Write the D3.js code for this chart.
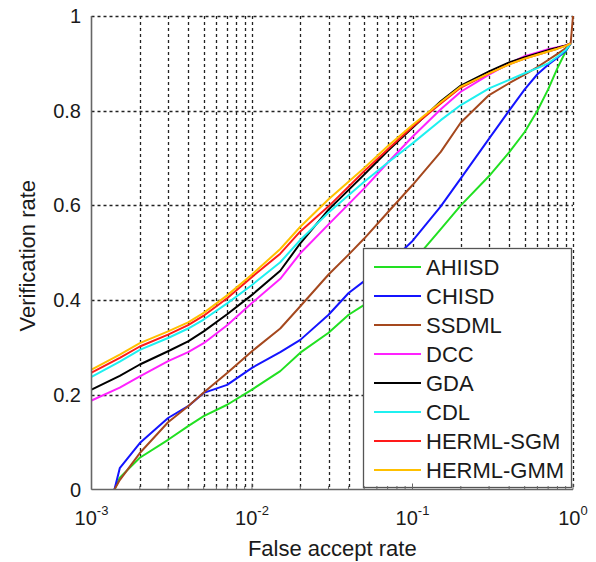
<!DOCTYPE html>
<html>
<head>
<meta charset="utf-8">
<script src="https://cdn.jsdelivr.net/npm/d3@7"></script>
<style>
  body { margin: 0; background: #fff; }
  text { font-family: Arial, "Liberation Sans", sans-serif; fill: #1a1a1a; }
</style>
</head>
<body>
<svg id="chart"></svg>
<script>
const width = 596;
const height = 562;

/* ---------------------------
Data
--------------------------- */

const methods = ["AHIISD", "CHISD", "SSDML", "DCC", "GDA", "CDL", "HERML-SGM", "HERML-GMM"];

// false accept rate samples
const farLow = [0.00139, 0.0015, 0.002, 0.003, 0.004, 0.005, 0.007, 0.01, 0.015, 0.02, 0.03, 0.04, 0.05, 0.07, 0.1, 0.15, 0.2, 0.3, 0.4, 0.5, 0.6, 0.7, 0.8, 0.9, 0.967];
const farSSDML = [0.00139, 0.0015, 0.002, 0.003, 0.004, 0.005, 0.007, 0.01, 0.015, 0.02, 0.03, 0.04, 0.05, 0.07, 0.1, 0.15, 0.2, 0.3, 0.4, 0.5, 0.6, 0.7, 0.8, 0.9, 0.967, 1.0];
const farHigh = [0.001, 0.0015, 0.002, 0.003, 0.004, 0.005, 0.007, 0.01, 0.015, 0.02, 0.03, 0.05, 0.07, 0.1, 0.15, 0.2, 0.3, 0.4, 0.5, 0.6, 0.7, 0.8, 0.9, 0.967];

// verification rates
const ahiisd = [0, 0.025, 0.067, 0.105, 0.134, 0.155, 0.179, 0.211, 0.25, 0.289, 0.331, 0.369, 0.39, 0.43, 0.48, 0.55, 0.6, 0.662, 0.712, 0.755, 0.8, 0.845, 0.89, 0.925, 0.942];
const chisd = [0, 0.045, 0.098, 0.151, 0.176, 0.204, 0.221, 0.257, 0.29, 0.316, 0.369, 0.415, 0.44, 0.475, 0.525, 0.598, 0.657, 0.741, 0.8, 0.845, 0.877, 0.897, 0.912, 0.926, 0.942];
const ssdml = [0, 0.02, 0.077, 0.142, 0.176, 0.205, 0.246, 0.292, 0.34, 0.387, 0.454, 0.496, 0.53, 0.585, 0.643, 0.713, 0.775, 0.833, 0.858, 0.876, 0.892, 0.907, 0.92, 0.932, 0.942, 1.0];
const dcc = [0.188, 0.215, 0.239, 0.271, 0.29, 0.309, 0.347, 0.394, 0.445, 0.499, 0.56, 0.636, 0.69, 0.745, 0.803, 0.84, 0.876, 0.9, 0.915, 0.923, 0.93, 0.934, 0.938, 0.942];
const gda = [0.211, 0.24, 0.264, 0.292, 0.313, 0.334, 0.37, 0.411, 0.462, 0.52, 0.591, 0.665, 0.715, 0.764, 0.82, 0.853, 0.883, 0.902, 0.913, 0.921, 0.928, 0.933, 0.938, 0.942];
const cdl = [0.238, 0.27, 0.295, 0.32, 0.34, 0.359, 0.393, 0.432, 0.48, 0.527, 0.585, 0.65, 0.69, 0.731, 0.78, 0.812, 0.847, 0.865, 0.879, 0.89, 0.9, 0.914, 0.928, 0.942];
const hermlSGM = [0.247, 0.278, 0.302, 0.327, 0.347, 0.367, 0.404, 0.449, 0.498, 0.545, 0.598, 0.672, 0.718, 0.766, 0.815, 0.849, 0.879, 0.898, 0.91, 0.918, 0.925, 0.931, 0.937, 0.942];
const hermlGMM = [0.253, 0.285, 0.309, 0.334, 0.353, 0.373, 0.41, 0.454, 0.508, 0.555, 0.613, 0.679, 0.725, 0.77, 0.818, 0.851, 0.879, 0.898, 0.91, 0.918, 0.925, 0.931, 0.937, 0.942];

const yTicks = [0, 0.2, 0.4, 0.6, 0.8, 1];
const yTickLabels = ["0", "0.2", "0.4", "0.6", "0.8", "1"];
const xDecades = [-3, -2, -1, 0];

const colors = ["#22e022", "#1414ff", "#a5481e", "#ff22ff", "#000000", "#1ff0f0", "#ff1a1a", "#ffc000"];

const series = [
  { name: methods[0], x: farLow, y: ahiisd },
  { name: methods[1], x: farLow, y: chisd },
  { name: methods[2], x: farSSDML, y: ssdml },
  { name: methods[3], x: farHigh, y: dcc },
  { name: methods[4], x: farHigh, y: gda },
  { name: methods[5], x: farHigh, y: cdl },
  { name: methods[6], x: farHigh, y: hermlSGM },
  { name: methods[7], x: farHigh, y: hermlGMM }
];

/* ---------------------------
Scales
--------------------------- */

const plot = { left: 91.5, right: 573, top: 16, bottom: 489.5 };

const x = d3.scaleLog()
  .domain([1e-3, 1])
  .range([plot.left, plot.right]);

const y = d3.scaleLinear()
  .domain([0, 1])
  .range([plot.bottom, plot.top]);

const svg = d3.select("#chart")
  .attr("width", width)
  .attr("height", height);

/* ---------------------------
Grid
--------------------------- */

const minorTicks = [];
xDecades.slice(0, -1).forEach(e => {
  for (let k = 1; k <= 9; k++) minorTicks.push(k * Math.pow(10, e));
});
minorTicks.push(1);

svg.append("g")
  .selectAll("line")
  .data(minorTicks.filter(v => v > 1e-3))
  .enter()
  .append("line")
  .attr("x1", d => Math.round(x(d)) + 0.5)
  .attr("x2", d => Math.round(x(d)) + 0.5)
  .attr("y1", plot.top)
  .attr("y2", plot.bottom)
  .attr("stroke", "#222")
  .attr("stroke-width", 1.3)
  .attr("stroke-dasharray", "3,3");

svg.append("g")
  .selectAll("line")
  .data(yTicks.filter(v => v > 0))
  .enter()
  .append("line")
  .attr("x1", plot.left)
  .attr("x2", plot.right)
  .attr("y1", d => Math.round(y(d)) + 0.5)
  .attr("y2", d => Math.round(y(d)) + 0.5)
  .attr("stroke", "#222")
  .attr("stroke-width", 1.3)
  .attr("stroke-dasharray", "3,3");

/* ---------------------------
Curves
--------------------------- */

svg.append("clipPath")
  .attr("id", "clip")
  .append("rect")
  .attr("x", plot.left)
  .attr("y", plot.top - 1)
  .attr("width", plot.right - plot.left + 2)
  .attr("height", plot.bottom - plot.top + 1);

const line = d3.line()
  .x(d => x(d[0]))
  .y(d => y(d[1]));

svg.append("g")
  .attr("clip-path", "url(#clip)")
  .selectAll("path")
  .data(series)
  .enter()
  .append("path")
  .attr("d", d => line(d.x.map((v, i) => [v, d.y[i]])))
  .attr("fill", "none")
  .attr("stroke", (d, i) => colors[i])
  .attr("stroke-width", 2)
  .attr("stroke-linejoin", "round");

/* ---------------------------
Legend
--------------------------- */

const legend = svg.append("g");

legend.append("rect")
  .attr("x", 363.5)
  .attr("y", 248.5)
  .attr("width", 208)
  .attr("height", 239)
  .attr("fill", "#fff")
  .attr("stroke", "#555")
  .attr("stroke-width", 1.3);

const entry = legend.selectAll("g.entry")
  .data(series)
  .enter()
  .append("g")
  .attr("class", "entry")
  .attr("transform", (d, i) => `translate(0,${267 + i * 29})`);

entry.append("line")
  .attr("x1", 374)
  .attr("x2", 421)
  .attr("stroke", (d, i) => colors[i])
  .attr("stroke-width", 2);

entry.append("text")
  .attr("x", 426)
  .attr("y", 8)
  .style("font-size", "22px")
  .text(d => d.name);

/* ---------------------------
Axes
--------------------------- */

const axisColor = "#666";

// small inward ticks along the bottom
svg.append("g")
  .selectAll("line")
  .data(minorTicks)
  .enter()
  .append("line")
  .attr("x1", d => x(d))
  .attr("x2", d => x(d))
  .attr("y1", plot.bottom)
  .attr("y2", d => plot.bottom - (xDecades.some(e => Math.abs(Math.pow(10, e) - d) < 1e-12) ? 6 : 3.5))
  .attr("stroke", axisColor)
  .attr("stroke-width", 1);

svg.append("line")
  .attr("x1", plot.left)
  .attr("x2", plot.left)
  .attr("y1", plot.top)
  .attr("y2", plot.bottom)
  .attr("stroke", axisColor)
  .attr("stroke-width", 1.6);

svg.append("line")
  .attr("x1", plot.left)
  .attr("x2", plot.right)
  .attr("y1", plot.bottom)
  .attr("y2", plot.bottom)
  .attr("stroke", axisColor)
  .attr("stroke-width", 1.6);

svg.append("g")
  .selectAll("text")
  .data(yTicks)
  .enter()
  .append("text")
  .attr("x", 81)
  .attr("y", d => y(d) + 7)
  .attr("text-anchor", "end")
  .style("font-size", "20px")
  .text((d, i) => yTickLabels[i]);

const xLabels = svg.append("g")
  .selectAll("text")
  .data(xDecades)
  .enter()
  .append("text")
  .attr("x", d => x(Math.pow(10, d)))
  .attr("y", 525)
  .attr("text-anchor", "middle")
  .style("font-size", "20px");

xLabels.append("tspan").text("10");
xLabels.append("tspan")
  .attr("dy", -10)
  .style("font-size", "13px")
  .text(d => String(d));

svg.append("text")
  .attr("x", (plot.left + plot.right) / 2)
  .attr("y", 556)
  .attr("text-anchor", "middle")
  .style("font-size", "22px")
  .text("False accept rate");

svg.append("text")
  .attr("transform", `translate(35,${(plot.top + plot.bottom) / 2 + 3}) rotate(-90)`)
  .attr("text-anchor", "middle")
  .style("font-size", "22px")
  .text("Verification rate");
</script>
</body>
</html>
